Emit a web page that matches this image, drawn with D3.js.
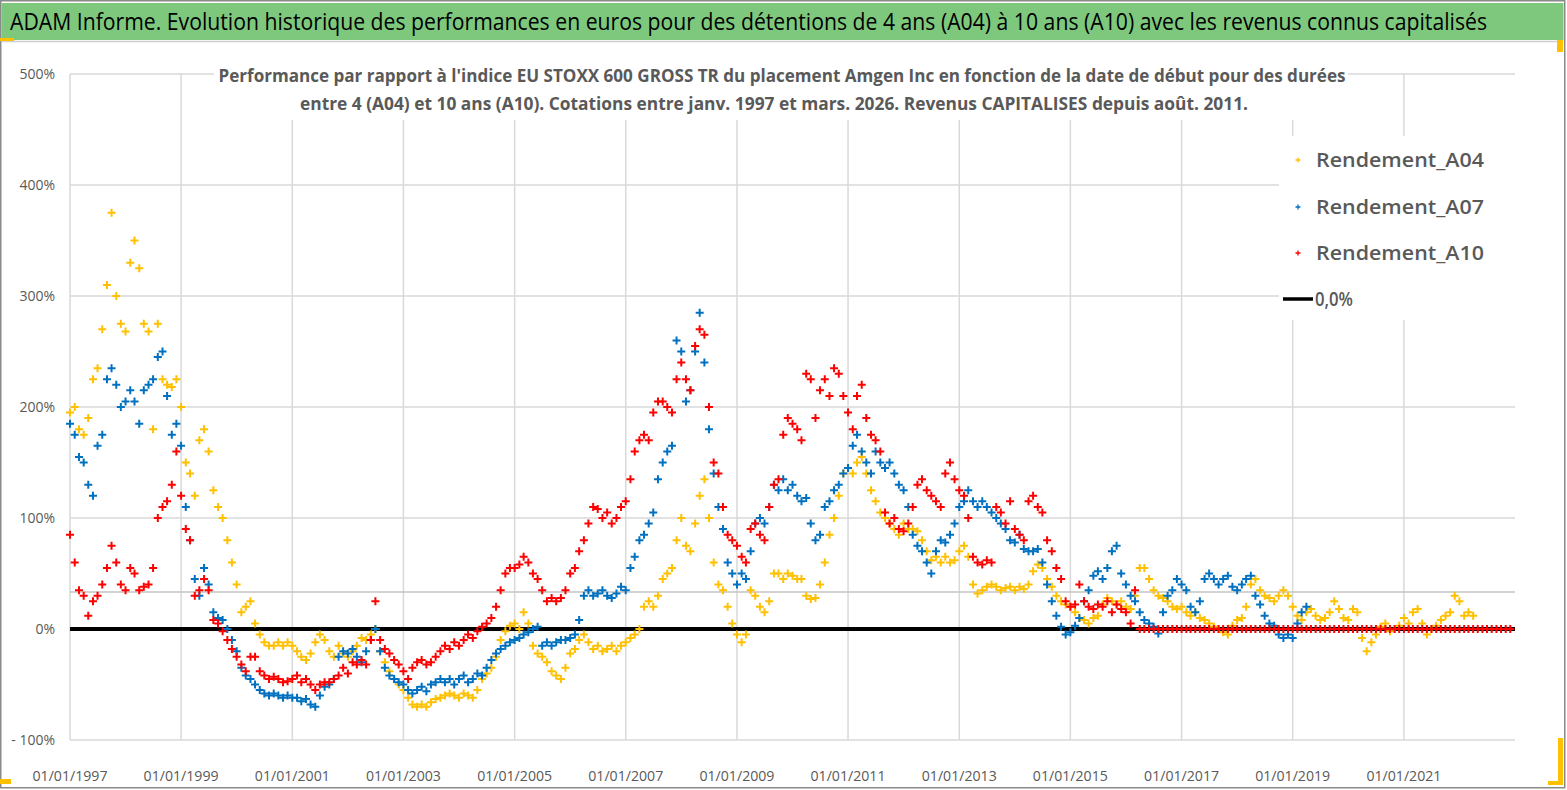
<!DOCTYPE html>
<html><head><meta charset="utf-8">
<script src="https://cdn.jsdelivr.net/npm/d3@7"></script>
<style>html,body{margin:0;padding:0;background:#fff;} svg{display:block;}</style>
</head><body>
<svg id="chart" width="1567" height="790"></svg>
<script>
const titleText = "ADAM Informe. Evolution historique des performances en euros pour des détentions de 4 ans (A04) à 10 ans (A10) avec les revenus connus capitalisés";
const subtitleLines = [
  "Performance par rapport à l'indice EU STOXX 600 GROSS TR  du placement Amgen Inc en fonction de la date de début pour des durées",
  "entre 4 (A04) et 10 ans (A10). Cotations entre janv. 1997 et mars. 2026. Revenus CAPITALISES depuis août. 2011."
];
const seriesNames = ["Rendement_A04", "Rendement_A07", "Rendement_A10"];
const zeroName = "0,0%";
const yTicks = [-100, 0, 100, 200, 300, 400, 500];
const yTickLabels = ["- 100%", "0%", "100%", "200%", "300%", "400%", "500%"];
const extraGrid = [33.33];
const xTickYears = [1997, 1999, 2001, 2003, 2005, 2007, 2009, 2011, 2013, 2015, 2017, 2019, 2021];
const startDate = "1997-01-01";
const endDate = "2023-01-01";

// monthly values (%) starting January 1997
const A04 = [
 195,200,180,175,190,225,235,270,310,375,300,275,
 268,330,350,325,275,268,180,275,225,220,218,225,
 200,150,140,120,170,180,160,125,110,100,80,60,
 40,15,20,25,5,-5,-12,-15,-15,-12,-15,-12,
 -15,-20,-25,-28,-22,-12,-5,-10,-20,-25,-15,-22,
 -25,-20,-15,-8,-10,-5,0,-20,-30,-38,-45,-50,
 -55,-62,-68,-70,-68,-70,-66,-63,-62,-60,-58,-60,
 -62,-58,-60,-62,-55,-45,-40,-35,-25,-10,-2,3,
 5,0,15,5,-15,-22,-25,-30,-38,-42,-45,-35,
 -22,-18,-10,-5,-12,-18,-15,-20,-18,-15,-20,-15,
 -12,-8,-5,0,20,25,20,30,45,50,55,80,
 100,75,70,95,120,135,100,60,40,35,20,5,
 -5,-12,-5,35,30,20,15,25,50,50,45,50,
 48,45,45,30,27,28,40,60,85,100,120,140,
 145,140,150,155,140,125,115,105,100,95,90,85,
 95,90,90,88,80,70,62,65,60,65,60,62,
 70,75,65,40,32,35,38,40,38,35,37,38,
 35,38,36,40,52,58,55,45,38,30,25,22,
 20,15,10,8,5,10,12,22,28,25,22,25,
 20,18,30,55,55,45,35,30,28,25,20,18,
 20,15,12,15,10,8,5,2,0,-3,-5,3,
 8,10,20,40,45,35,30,28,25,30,35,30,
 20,12,8,15,18,12,8,10,15,25,18,10,
 8,18,15,-8,-20,-12,-5,2,5,-2,0,3,
 10,5,15,18,5,-5,0,3,8,12,15,30,
 25,12,15,12
];
const A07 = [
 185,175,155,150,130,120,165,175,225,235,220,200,
 205,215,205,185,215,220,225,245,250,210,175,185,
 165,110,80,45,30,55,40,15,10,8,0,-10,
 -20,-35,-42,-45,-50,-55,-58,-60,-58,-60,-62,-60,
 -62,-62,-65,-63,-68,-70,-60,-52,-50,-45,-25,-20,
 -22,-18,-25,-30,-20,-10,0,-20,-35,-42,-45,-48,
 -50,-55,-58,-55,-52,-56,-50,-48,-45,-48,-45,-50,
 -45,-42,-48,-45,-40,-42,-35,-28,-22,-18,-15,-12,
 -10,-8,-5,-3,0,2,-15,-12,-15,-12,-10,-10,
 -8,-5,8,30,35,30,32,35,30,28,32,38,
 35,55,65,80,85,95,105,135,150,160,165,260,
 250,205,215,250,285,240,180,140,110,90,60,50,
 40,50,45,70,95,100,95,110,130,125,135,125,
 130,120,115,118,95,80,85,110,115,125,130,140,
 145,165,175,160,150,140,160,150,145,150,140,130,
 125,110,85,75,70,60,50,70,80,78,85,95,
 110,115,125,115,110,115,110,105,100,95,90,80,
 78,85,72,70,70,72,60,40,25,12,2,-5,
 -3,3,10,25,35,48,52,45,55,70,75,50,
 40,30,25,15,8,5,2,-4,15,30,35,45,
 40,35,20,15,25,45,50,45,40,45,48,38,
 35,40,45,48,30,22,12,5,3,-5,-8,-5,
 -8,5,15,20
];
const A10 = [
 85,60,35,30,12,25,30,40,55,75,60,40,
 35,55,50,35,38,40,55,100,110,115,130,160,
 120,90,80,30,35,45,35,8,5,-2,-10,-18,
 -25,-32,-38,-25,-25,-38,-42,-45,-43,-45,-48,-47,
 -45,-42,-48,-45,-50,-55,-50,-48,-48,-45,-42,-35,
 -40,-30,-32,-28,-32,-10,25,-10,-18,-22,-28,-32,
 -38,-45,-35,-30,-28,-32,-30,-25,-20,-15,-18,-12,
 -15,-10,-5,-8,-2,2,5,10,20,35,50,55,
 55,58,65,60,50,45,35,25,28,25,28,35,
 50,55,70,80,95,110,108,100,105,95,100,110,
 115,135,160,170,175,170,195,205,205,200,195,225,
 240,225,215,255,270,265,200,150,140,110,85,80,
 75,65,60,90,95,85,80,110,130,135,175,190,
 185,180,170,230,225,190,215,225,210,235,230,210,
 195,180,210,220,190,175,170,160,105,95,100,90,
 88,95,110,130,135,125,120,115,110,140,150,135,
 125,120,100,65,60,58,62,60,110,105,95,115,
 90,85,80,115,120,110,105,80,70,55,45,25,
 20,22,40,25,20,18,22,20,25,15,22,18,
 15,5,35,0,0,0,0,0,0,0,0,0,
 0,0,0,0,0,0,0,0,0,0,0,0,
 0,0,0,0,0,0,0,0,0,0,0,0,
 0,0,0,0,0,0,0,0,0,0,0,0,
 0,0,0,0,0,0,0,0,0,0,0,0,
 0,0,0,0,0,0,0,0,0,0,0,0,
 0,0,0,0,0,0,0,0,0,0,0,0
];
const seriesValues = [A04, A07, A10];
const colors = ["#FFC000", "#0070C0", "#FF0000"];

const svg = d3.select("#chart");
const W = 1567, H = 790;
const parse = d3.timeParse("%Y-%m-%d");
const t0 = parse(startDate), t1 = parse(endDate);
const x = d3.scaleTime().domain([t0, t1]).range([70, 1515]);
const y = d3.scaleLinear().domain([-100, 500]).range([740, 74]);
const font = "'Open Sans','Liberation Sans',Arial,sans-serif";

// background & frame
svg.append("rect").attr("x",0).attr("y",0).attr("width",W).attr("height",H).attr("fill","#fff");
svg.append("rect").attr("x",0.75).attr("y",0.75).attr("width",W-3).attr("height",H-3)
  .attr("fill","none").attr("stroke","#8a8a8a").attr("stroke-width",1.5);
// title bar
svg.append("rect").attr("x",1.5).attr("y",3).attr("width",W-5).attr("height",37).attr("fill","#7ec87e");
svg.append("line").attr("x1",1.5).attr("x2",W-3.5).attr("y1",41.5).attr("y2",41.5).attr("stroke","#d0d0d0").attr("stroke-width",1.5);
svg.append("g").attr("transform","translate(10,29.5) scale(1,1.22)")
  .append("text").attr("x",0).attr("y",0).attr("font-family",font).attr("font-size",19)
  .attr("font-weight","500").attr("fill","#000").attr("textLength",1477).attr("lengthAdjust","spacingAndGlyphs").text(titleText);
// selection marks
const yel = "#FFC000";
[[0,38,14,3],[0,779,11,5],[1557,40,6,12],[1558,738,5,47],[1548,781,15,4]].forEach(r=>
  svg.append("rect").attr("x",r[0]).attr("y",r[1]).attr("width",r[2]).attr("height",r[3]).attr("fill",yel));

const plot = svg.append("g");
// gridlines
const xTickDates = xTickYears.map(yr => new Date(yr, 0, 1));
plot.selectAll("line.vg").data(xTickDates).join("line")
  .attr("x1",d=>x(d)).attr("x2",d=>x(d)).attr("y1",y(500)).attr("y2",y(-100))
  .attr("stroke","#d9d9d9").attr("stroke-width",1.5);
plot.selectAll("line.hg").data(yTicks).join("line")
  .attr("x1",x(t0)).attr("x2",x(t1)).attr("y1",d=>y(d)).attr("y2",d=>y(d))
  .attr("stroke","#d9d9d9").attr("stroke-width",1.5);
plot.selectAll("line.eg").data(extraGrid).join("line")
  .attr("x1",x(t0)).attr("x2",x(t1)).attr("y1",d=>y(d)).attr("y2",d=>y(d))
  .attr("stroke","#c4c4c4").attr("stroke-width",1.5);

// y labels
svg.selectAll("text.yl").data(yTicks).join("text")
  .attr("x",55).attr("y",d=>y(d)+5).attr("text-anchor","end")
  .attr("font-family",font).attr("font-size",14).attr("fill","#595959")
  .text((d,i)=>yTickLabels[i]);
// x labels
svg.selectAll("text.xl").data(xTickDates).join("text")
  .attr("x",d=>x(d)).attr("y",781).attr("text-anchor","middle")
  .attr("font-family",font).attr("font-size",15).attr("fill","#595959")
  .attr("textLength",75).attr("lengthAdjust","spacingAndGlyphs")
  .text(d3.timeFormat("%d/%m/%Y"));

// subtitle box
svg.append("rect").attr("x",214).attr("y",60).attr("width",1134).attr("height",60).attr("fill","#fff");
const subW = [1127, 948];
const subY = [82, 110];
subtitleLines.forEach((s,i)=>{
  svg.append("g").attr("transform",`translate(${782 - (i? 8:0)},${subY[i]}) scale(1,1.12)`)
    .append("text").attr("x",0).attr("y",0).attr("text-anchor","middle")
    .attr("font-family",font).attr("font-weight","bold").attr("font-size",16).attr("fill","#595959")
    .attr("textLength",subW[i]).attr("lengthAdjust","spacingAndGlyphs").text(s);
});

// zero line
plot.append("line").attr("x1",x(t0)).attr("x2",x(t1)).attr("y1",y(0)).attr("y2",y(0))
  .attr("stroke","#000").attr("stroke-width",4);

// series
const plus = "M-4,0H4M0,-4V4";
seriesValues.forEach((vals,k)=>{
  const pts = vals.map((v,i)=>({d:d3.timeMonth.offset(t0,i), v}));
  plot.append("g").selectAll("path").data(pts).join("path")
    .attr("transform",p=>`translate(${x(p.d)},${y(p.v)})`)
    .attr("d",plus).attr("stroke",colors[k]).attr("stroke-width",2).attr("fill","none");
});

// legend
const lg = svg.append("g");
lg.append("rect").attr("x",1279).attr("y",136).attr("width",236).attr("height",184).attr("fill","#fff");
const legY = [160, 207, 253, 299];
seriesNames.forEach((n,i)=>{
  lg.append("path").attr("transform",`translate(1298,${legY[i]})`).attr("d","M-2.5,0H2.5M0,-2.5V2.5")
    .attr("stroke",colors[i]).attr("stroke-width",1.3);
  lg.append("g").attr("transform",`translate(1316,${legY[i]+7}) scale(1,1.12)`)
    .append("text").attr("x",0).attr("y",0).attr("font-family",font).attr("font-weight","600")
    .attr("font-size",18).attr("fill","#595959").attr("textLength",168).attr("lengthAdjust","spacingAndGlyphs").text(n);
});
lg.append("line").attr("x1",1283).attr("x2",1313).attr("y1",legY[3]).attr("y2",legY[3]).attr("stroke","#000").attr("stroke-width",3.5);
lg.append("g").attr("transform",`translate(1315,${legY[3]+7}) scale(1,1.12)`)
  .append("text").attr("x",0).attr("y",0).attr("font-family",font).attr("font-weight","600")
  .attr("font-size",18).attr("fill","#595959").attr("textLength",38).attr("lengthAdjust","spacingAndGlyphs").text(zeroName);
</script>
</body></html>
